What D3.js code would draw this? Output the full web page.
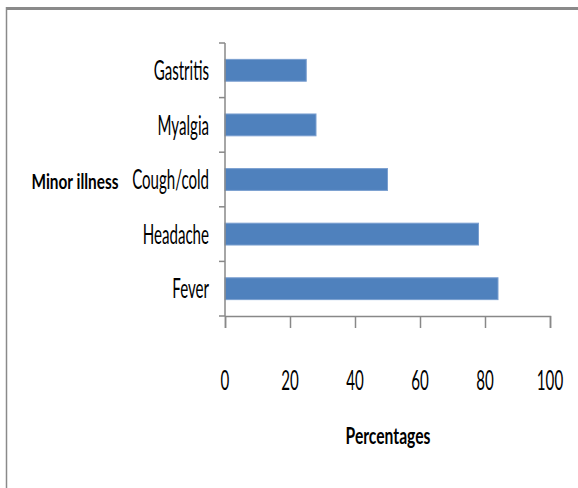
<!DOCTYPE html>
<html>
<head>
<meta charset="utf-8">
<script src="https://cdn.jsdelivr.net/npm/d3@7"></script>
<style>
  body { margin: 0; background: #fff; }
  text { font-family: Lato, "Open Sans", sans-serif; fill: #000; }
</style>
</head>
<body>
<div id="chart"></div>
<script>
// data
const categories = ["Gastritis", "Myalgia", "Cough/cold", "Headache", "Fever"];
const percentages = [25, 28, 50, 78, 84];
const xTicks = [0, 20, 40, 60, 80, 100];
const xTitle = "Percentages";
const yTitle = "Minor illness";

const W = 578, H = 488;
const margin = { top: 43, left: 225, right: 28, bottom: 172 };

const svg = d3.select("#chart").append("svg")
    .attr("width", W)
    .attr("height", H);

// frame lines (top and left)
svg.append("line").attr("x1", 6).attr("x2", W).attr("y1", 8.5).attr("y2", 8.5)
    .attr("stroke", "#8a8a8a").attr("stroke-width", 3);
svg.append("line").attr("x1", 6.5).attr("x2", 6.5).attr("y1", 7).attr("y2", H)
    .attr("stroke", "#8a8a8a").attr("stroke-width", 1.5);

const x = d3.scaleLinear()
    .domain([0, 100])
    .range([margin.left, W - margin.right]);

const y = d3.scaleBand()
    .domain(categories)
    .range([margin.top, H - margin.bottom])
    .paddingInner(0.6)
    .paddingOuter(0.3);

// text in the reference is squeezed sideways, so scale x only
function putText(g, tx, ty, str, anchor, size, weight, sx) {
    return g.append("text")
        .attr("transform", `translate(${tx},${ty}) scale(${sx},1)`)
        .attr("text-anchor", anchor)
        .attr("dominant-baseline", "central")
        .style("font-size", size + "px")
        .style("font-weight", weight)
        .text(str);
}

// bars
svg.selectAll(".bar")
    .data(categories)
  .enter().append("rect")
    .attr("class", "bar")
    .attr("x", x(0))
    .attr("y", d => y(d))
    .attr("width", (d, i) => x(percentages[i]) - x(0))
    .attr("height", y.bandwidth())
    .attr("fill", "#4f81bd")
    .attr("stroke", "#7a9fd0")
    .attr("stroke-width", 1);

// y axis line + ticks at band boundaries
const axisColor = "#888";
const y0 = margin.top, y1 = H - margin.bottom;
svg.append("line").attr("x1", x(0)).attr("x2", x(0)).attr("y1", y0).attr("y2", y1)
    .attr("stroke", axisColor).attr("stroke-width", 1.5);
const bounds = d3.range(categories.length + 1).map(i => y0 + i * (y1 - y0) / categories.length);
svg.selectAll(".ytick")
    .data(bounds)
  .enter().append("line")
    .attr("x1", x(0) - 6).attr("x2", x(0))
    .attr("y1", d => d).attr("y2", d => d)
    .attr("stroke", axisColor).attr("stroke-width", 1.5);

// category labels
categories.forEach(c => {
    putText(svg, 209, y(c) + y.bandwidth() / 2, c, "end", 26, "normal", 0.58);
});

// x axis
const xAxis = svg.append("g")
    .attr("transform", `translate(0,${y1})`)
    .call(d3.axisBottom(x).tickValues(xTicks).tickSize(12).tickFormat(""));
xAxis.select(".domain").attr("stroke", axisColor).attr("stroke-width", 1.5);
xAxis.selectAll(".tick line").attr("stroke", axisColor).attr("stroke-width", 1.5);

xTicks.forEach(t => {
    putText(svg, x(t), 380, String(t), "middle", 27, "normal", 0.56);
});

// axis titles
putText(svg, 75, 181, yTitle, "middle", 20, "bold", 0.77);
putText(svg, 388, 435, xTitle, "middle", 23, "bold", 0.68);
</script>
</body>
</html>
